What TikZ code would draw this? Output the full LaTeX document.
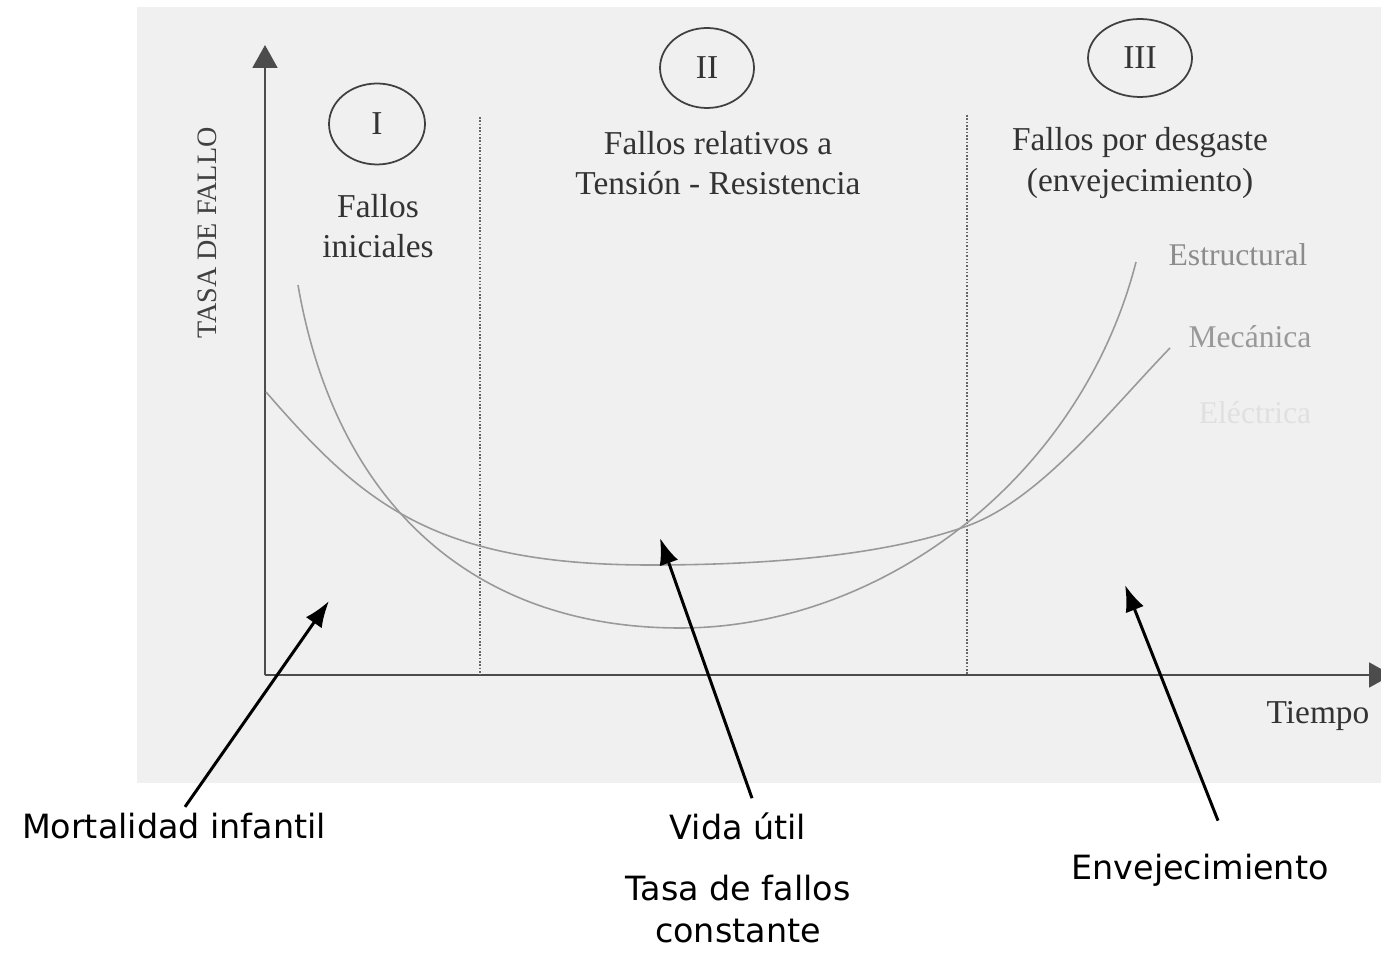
\documentclass[tikz,border=0pt]{standalone}
\usepackage{fontspec}
\setmainfont{Liberation Serif}
\newfontfamily\handfont{DejaVu Sans}
\usetikzlibrary{arrows.meta,shapes.geometric,calc}

\tikzset{
  axisline/.style={line width=1.6pt,draw=black!70,-{Triangle[length=13pt,width=14pt]}},
  curve/.style={line width=0.9pt,draw=black!40},
  phasesep/.style={densely dotted,line width=0.9pt,draw=black!60},
  phasecircle/.style={ellipse,draw=black!75,line width=1pt,inner sep=0pt,minimum width=1.92cm,minimum height=1.62cm,
    font=\fontsize{19}{23}\selectfont,text=black!80},
  phasetext/.style={align=center,font=\fontsize{19}{23}\selectfont,text=black!80},
  curvelabel/.style={font=\fontsize{18}{22}\selectfont},
  handtext/.style={align=center,font=\handfont\fontsize{19}{24}\selectfont},
  pointer/.style={line width=1.7pt,-{Latex[length=15pt,width=11pt]}}
}

\begin{document}
\begin{tikzpicture}[x=0.02cm,y=-0.02cm]
\fill[white] (0,0) rectangle (1381,955);
\useasboundingbox (0,0) rectangle (1381,955);
\fill[black!6] (137,7) rectangle (1381,783);

% ejes
\coordinate (origen) at (265,675);
\coordinate (ytop) at (265,45);
\coordinate (xfin) at (1392,675);
\draw[axisline] (origen) -- (ytop);
\draw[axisline] (origen) -- (xfin);

% separacion de fases
\draw[phasesep] (480,117) -- (480,675);
\draw[phasesep] (967,115) -- (967,675);

% curvas
\draw[curve] (298,285) .. controls (335,500) and (470,628) .. (680,628)
  .. controls (880,628) and (1080,480) .. (1136,262);
\draw[curve] (266,392) .. controls (360,500) and (430,565) .. (650,565)
  .. controls (800,565) and (900,550) .. (967,526)
  .. controls (1040,500) and (1110,410) .. (1170,348);

% fases
\node[phasecircle] (faseI) at (377,124) {I};
\node[phasecircle,minimum width=1.88cm,minimum height=1.6cm] (faseII) at (707,68) {II};
\node[phasecircle,minimum width=2.08cm,minimum height=1.56cm] (faseIII) at (1140,58) {III};
\node[phasetext] (iniciales) at (378,226) {Fallos\\iniciales};
\node[phasetext] (tension) at (718,163) {Fallos relativos a\\Tensión - Resistencia};
\node[phasetext] (desgaste) at (1140,163) {Fallos por desgaste\\(envejecimiento)};

% rotulos de ejes y curvas
\node[rotate=90,font=\fontsize{16}{19}\selectfont,text=black!75] (tasa) at (207,233) {TASA DE FALLO};
\node[phasetext] (tiempo) at (1318,716) {Tiempo};
\node[curvelabel,text=black!45] (estructural) at (1238,255) {Estructural};
\node[curvelabel,text=black!40] (mecanica) at (1250,337) {Mecánica};
\node[curvelabel,text=black!12] (electrica) at (1255,413) {Eléctrica};

% etiquetas inferiores
\node[handtext] (mortalidad) at (174,826) {Mortalidad infantil};
\node[handtext] (vida) at (738,826) {Vida útil};
\node[handtext] (constante) at (738,909) {Tasa de fallos\\constante};
\node[handtext] (envejecimiento) at (1200,870) {Envejecimiento};

\coordinate (puntaI) at (329,601);
\coordinate (puntaII) at (660,538);
\coordinate (puntaIII) at (1125,585);
\draw[pointer] ($(mortalidad.north)+(11,0)$) -- (puntaI);
\draw[pointer] ($(vida.north)+(14,-8)$) -- (puntaII);
\draw[pointer] ($(envejecimiento.north)+(18,-27)$) -- (puntaIII);
\end{tikzpicture}
\end{document}
